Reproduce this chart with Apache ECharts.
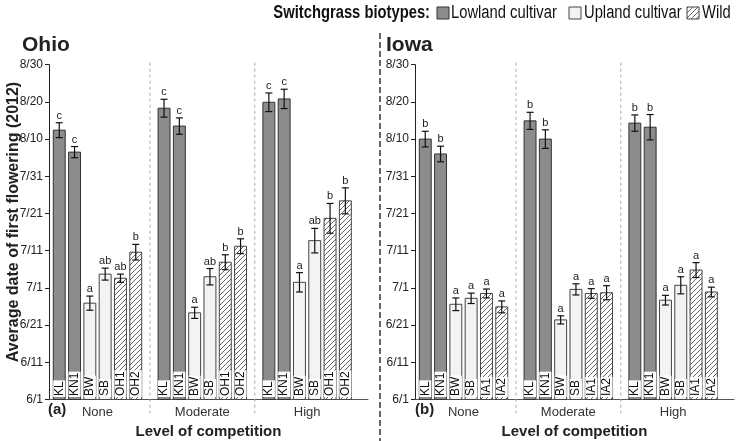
<!DOCTYPE html>
<html><head><meta charset="utf-8">
<script src="https://cdn.jsdelivr.net/npm/echarts/dist/echarts.min.js"></script>
<style>html,body{margin:0;padding:0;background:#fff}#c{width:736px;height:441px}</style>
</head><body><div id="c"></div>
<script>
// ---------------- data ----------------
const groups = ['None', 'Moderate', 'High'];
const ohioBiotypes = ['KL', 'KN1', 'BW', 'SB', 'OH1', 'OH2'];
const iowaBiotypes = ['KL', 'KN1', 'BW', 'SB', 'IA1', 'IA2'];
const biotypeClass = ['lowland', 'lowland', 'upland', 'upland', 'wild', 'wild'];
const yTickLabels = ['6/1', '6/11', '6/21', '7/1', '7/11', '7/21', '7/31', '8/10', '8/20', '8/30'];
// mean date of first flowering, in days after 6/1/2012, with standard error
const ohioNone = [72.4, 66.5, 25.9, 33.7, 32.6, 39.6];
const ohioNoneSE = [2.0, 1.5, 1.9, 1.6, 1.1, 2.1];
const ohioNoneLetters = ['c', 'c', 'a', 'ab', 'ab', 'b'];
const ohioModerate = [78.3, 73.5, 23.3, 33.0, 36.9, 41.2];
const ohioModerateSE = [2.4, 2.2, 1.5, 2.2, 2.0, 2.0];
const ohioModerateLetters = ['c', 'c', 'a', 'ab', 'b', 'b'];
const ohioHigh = [79.9, 80.8, 31.5, 42.7, 48.7, 53.4];
const ohioHighSE = [2.5, 2.6, 2.6, 3.3, 4.0, 3.5];
const ohioHighLetters = ['c', 'c', 'a', 'ab', 'b', 'b'];
const iowaNone = [70.0, 66.0, 25.6, 27.2, 28.5, 24.9];
const iowaNoneSE = [2.1, 2.1, 1.7, 1.4, 1.2, 1.6];
const iowaNoneLetters = ['b', 'b', 'a', 'a', 'a', 'a'];
const iowaModerate = [74.9, 70.0, 21.4, 29.6, 28.5, 28.7];
const iowaModerateSE = [2.3, 2.5, 1.1, 1.5, 1.3, 1.9];
const iowaModerateLetters = ['b', 'b', 'a', 'a', 'a', 'a'];
const iowaHigh = [74.3, 73.2, 26.7, 30.7, 34.8, 28.9];
const iowaHighSE = [2.2, 3.4, 1.3, 2.3, 2.0, 1.3];
const iowaHighLetters = ['b', 'b', 'a', 'a', 'a', 'a'];

// ---------------- layout ----------------
const GROUP_STEP = 6.85, FIRST = 0.67, XMAX = 20.85, BAR_W = 0.78, SEP_OFF = 6.6;
const FONT = "'Liberation Sans', Arial, sans-serif";
const NARROW_SCALE = 0.82;

function makeHatch() {
  const c = document.createElement('canvas');
  c.width = c.height = 5;
  const g = c.getContext('2d');
  g.fillStyle = '#fff'; g.fillRect(0, 0, 5, 5);
  g.strokeStyle = '#555'; g.lineWidth = 0.9;
  g.beginPath();
  g.moveTo(0, 5); g.lineTo(5, 0);
  g.moveTo(-1, 1); g.lineTo(1, -1);
  g.moveTo(4, 6); g.lineTo(6, 4);
  g.stroke();
  return c;
}
const hatch = makeHatch();
const fills = {
  lowland: { fill: '#8c8c8c', stroke: '#333' },
  upland: { fill: '#f3f3f3', stroke: '#444' },
  wild: { fill: { image: hatch, repeat: 'repeat' }, stroke: '#444' }
};

function buildItems(names, means, ses, letters) {
  const items = [];
  for (let g = 0; g < groups.length; g++) {
    for (let i = 0; i < names.length; i++) {
      items.push({ value: [g * GROUP_STEP + FIRST + i, means[g][i], ses[g][i]],
        letter: letters[g][i], label: names[i], cls: biotypeClass[i] });
    }
  }
  return items;
}
const ohioItems = buildItems(ohioBiotypes, [ohioNone, ohioModerate, ohioHigh],
  [ohioNoneSE, ohioModerateSE, ohioHighSE], [ohioNoneLetters, ohioModerateLetters, ohioHighLetters]);
const iowaItems = buildItems(iowaBiotypes, [iowaNone, iowaModerate, iowaHigh],
  [iowaNoneSE, iowaModerateSE, iowaHighSE], [iowaNoneLetters, iowaModerateLetters, iowaHighLetters]);

function barSeries(items, idx) {
  return {
    type: 'custom', xAxisIndex: idx, yAxisIndex: idx, clip: false,
    data: items.map(d => d.value),
    renderItem: function (params, api) {
      const it = items[params.dataIndex];
      const x = api.value(0), m = api.value(1), se = api.value(2);
      const base = api.coord([x, 0]);
      const top = api.coord([x, m]);
      const w = api.size([BAR_W, 0])[0];
      const yHi = api.coord([x, m + se])[1];
      const yLo = api.coord([x, m - se])[1];
      const cx = base[0];
      const st = fills[it.cls];
      return {
        type: 'group',
        children: [
          { type: 'rect', shape: { x: cx - w / 2, y: top[1], width: w, height: base[1] - top[1] },
            style: { fill: st.fill, stroke: st.stroke, lineWidth: 1 } },
          { type: 'text', x: cx, y: base[1] - 2.5, rotation: Math.PI / 2,
            style: { text: it.label, font: '12px ' + FONT, fill: '#111', align: 'left', verticalAlign: 'middle',
              backgroundColor: '#fff', padding: [0, 1, 0, 1] } },
          { type: 'line', shape: { x1: cx, y1: yHi, x2: cx, y2: yLo }, style: { stroke: '#111', lineWidth: 1.2 } },
          { type: 'line', shape: { x1: cx - 3.5, y1: yHi, x2: cx + 3.5, y2: yHi }, style: { stroke: '#111', lineWidth: 1.2 } },
          { type: 'line', shape: { x1: cx - 3.5, y1: yLo, x2: cx + 3.5, y2: yLo }, style: { stroke: '#111', lineWidth: 1.2 } },
          { type: 'text', x: cx, y: yHi - 1.5,
            style: { text: it.letter, font: '11px ' + FONT, fill: '#222', align: 'center', verticalAlign: 'bottom' } }
        ]
      };
    }
  };
}

function decorSeries(idx) {
  const data = [];
  for (let g = 0; g < groups.length; g++) data.push([g * GROUP_STEP + FIRST + 2.5, 0, g]);
  for (let g = 0; g < groups.length - 1; g++) data.push([g * GROUP_STEP + SEP_OFF, 0, -1]);
  return {
    type: 'custom', xAxisIndex: idx, yAxisIndex: idx, clip: false, silent: true,
    data: data,
    renderItem: function (params, api) {
      const x = api.value(0), kind = api.value(2);
      const b = api.coord([x, 0]);
      if (kind >= 0) {
        return { type: 'text', x: b[0], y: b[1] + 12.5,
          style: { text: groups[kind], font: '13px ' + FONT, fill: '#333', align: 'center', verticalAlign: 'middle' } };
      }
      const t = api.coord([x, 90]);
      return { type: 'line', shape: { x1: b[0], y1: t[1] - 2, x2: b[0], y2: b[1] + 14 },
        style: { stroke: '#aaa', lineWidth: 1, lineDash: [3, 3] } };
    }
  };
}

function xAxisCfg(idx) {
  return {
    gridIndex: idx, type: 'value', min: 0, max: XMAX,
    axisLine: { show: true, lineStyle: { color: '#555', width: 1 } },
    axisTick: { show: false }, axisLabel: { show: false }, splitLine: { show: false },
    name: 'Level of competition', nameLocation: 'middle', nameGap: 25,
    nameTextStyle: { fontFamily: FONT, fontWeight: 'bold', fontSize: 15, color: '#222' }
  };
}
function yAxisCfg(idx) {
  return {
    gridIndex: idx, type: 'value', min: 0, max: 90, interval: 10,
    axisLine: { show: true, lineStyle: { color: '#222', width: 1 } },
    axisTick: { show: true, length: 4, lineStyle: { color: '#222' } },
    axisLabel: { fontFamily: FONT, fontSize: 12, color: '#222', margin: 6,
      formatter: v => yTickLabels[Math.round(v / 10)] },
    splitLine: { show: false }
  };
}

function legendText(x, txt, bold, align) {
  return { type: 'text', x: x, y: 13, scaleX: NARROW_SCALE,
    style: { text: txt, font: (bold ? 'bold ' : '') + '18px ' + FONT, fill: '#111', align: align, verticalAlign: 'middle' } };
}
function legendBox(x, fill, stroke) {
  return { type: 'rect', shape: { x: x, y: 7, width: 12, height: 12 }, style: { fill: fill, stroke: stroke, lineWidth: 1 } };
}

const option = {
  animation: false,
  backgroundColor: '#fff',
  grid: [
    { left: 49, top: 64.7, width: 319, height: 334.8, outerBoundsMode: 'none' },
    { left: 415, top: 64.7, width: 319, height: 334.8, outerBoundsMode: 'none' }
  ],
  xAxis: [xAxisCfg(0), xAxisCfg(1)],
  yAxis: [yAxisCfg(0), yAxisCfg(1)],
  series: [decorSeries(0), decorSeries(1), barSeries(ohioItems, 0), barSeries(iowaItems, 1)],
  graphic: [
    { type: 'text', left: 22, top: 35, style: { text: 'Ohio', font: 'bold 21px ' + FONT, fill: '#222' } },
    { type: 'text', left: 386, top: 35, style: { text: 'Iowa', font: 'bold 21px ' + FONT, fill: '#222' } },
    { type: 'line', shape: { x1: 380, y1: 33, x2: 380, y2: 441 }, style: { stroke: '#666', lineWidth: 2, lineDash: [6, 3] } },
    { type: 'text', left: 48, top: 402, style: { text: '(a)', font: 'bold 15px ' + FONT, fill: '#222' } },
    { type: 'text', left: 415, top: 402, style: { text: '(b)', font: 'bold 15px ' + FONT, fill: '#222' } },
    { type: 'text', x: 14, y: 222, rotation: Math.PI / 2,
      style: { text: 'Average date of first flowering (2012)', font: 'bold 16px ' + FONT, fill: '#222', align: 'center', verticalAlign: 'middle' } },
    // legend
    legendText(430, 'Switchgrass biotypes:', true, 'right'),
    legendBox(437, '#8c8c8c', '#333'),
    legendText(451, 'Lowland cultivar', false, 'left'),
    legendBox(569, '#f3f3f3', '#444'),
    legendText(584, 'Upland cultivar', false, 'left'),
    legendBox(687, { image: hatch, repeat: 'repeat' }, '#444'),
    legendText(702, 'Wild', false, 'left')
  ]
};
const chart = echarts.init(document.getElementById('c'), null, { renderer: 'canvas' });
chart.setOption(option);
</script>
</body></html>
